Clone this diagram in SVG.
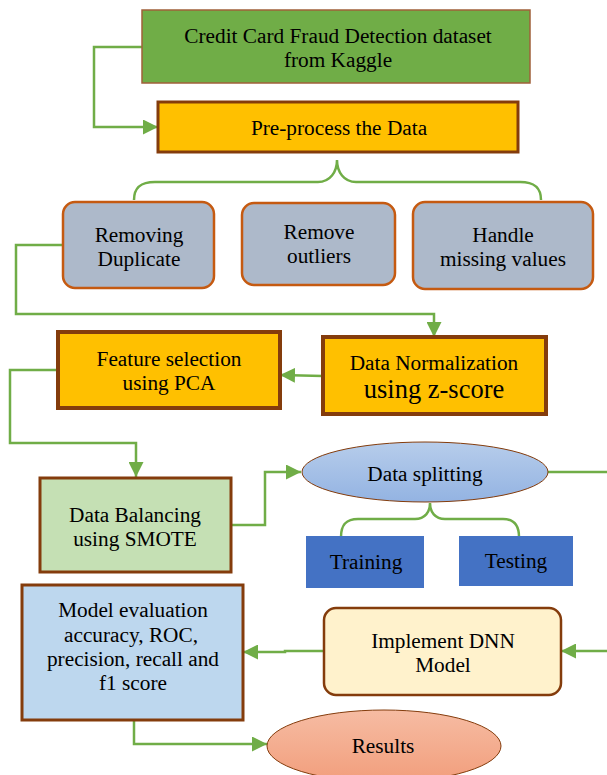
<svg xmlns="http://www.w3.org/2000/svg" width="607" height="775" viewBox="0 0 607 775">
<defs>
<style>
text{font-family:"Liberation Serif","Times New Roman",serif;font-size:21.3px;fill:#000;text-anchor:middle}
.conn{fill:none;stroke:#70AD47;stroke-width:2.5}
.sq{stroke:#843C0C}
.rr{fill:#ADB9CA;stroke:#C55A11;stroke-width:2.5}
</style>
<marker id="ah" viewBox="0 0 10 10" refX="10" refY="5" markerUnits="userSpaceOnUse" markerWidth="15" markerHeight="15" orient="auto">
<path d="M0,0 L10,5 L0,10 z" fill="#70AD47"/>
</marker>
<linearGradient id="gblue" x1="0" y1="0" x2="0" y2="1">
<stop offset="0" stop-color="#B7CDEB"/>
<stop offset="1" stop-color="#93B3E2"/>
</linearGradient>
<linearGradient id="gsalmon" x1="0" y1="0" x2="0" y2="1">
<stop offset="0" stop-color="#F6BCA3"/>
<stop offset="1" stop-color="#F29E7C"/>
</linearGradient>
</defs>

<g id="connectors">
<path class="conn" d="M142,47 H94 V127 H158" marker-end="url(#ah)"/>
<path class="conn" d="M134,200 C134,188 140,182 155,182 H318 C330,182 337,172 337,160 C337,172 344,182 356,182 H520 C535,182 541,188 541,200"/>
<path class="conn" d="M63,245 H16 V314 H434 V337" marker-end="url(#ah)"/>
<path class="conn" d="M323,376 L280,375" marker-end="url(#ah)"/>
<path class="conn" d="M58,370 H10 V443 H136 V477" marker-end="url(#ah)"/>
<path class="conn" d="M231,525 H265 V472 H301" marker-end="url(#ah)"/>
<path class="conn" d="M548,472 H607"/>
<path class="conn" d="M341,537 C341,525 346,519 358,519 H415 C425,519 430,512 430,503 C430,512 435,519 445,519 H503 C514,519 519,525 519,537"/>
<path class="conn" d="M607,651 H561" marker-end="url(#ah)"/>
<path class="conn" d="M324,651 H285 V652 H243" marker-end="url(#ah)"/>
<path class="conn" d="M134,720 V744 H267" marker-end="url(#ah)"/>
</g>

<g id="dataset">
<rect x="142" y="10" width="388" height="73" fill="#70AD47" stroke="#A0603A" stroke-width="1.5"/>
<text x="338" y="43">Credit Card Fraud Detection dataset</text>
<text x="338" y="67">from Kaggle</text>
</g>

<g id="preprocess">
<rect x="158" y="102" width="360" height="50" fill="#FFC000" class="sq" stroke-width="3"/>
<text x="339" y="135">Pre-process the Data</text>
</g>

<g id="removing-duplicate">
<rect x="63" y="202" width="151" height="86" rx="12" class="rr"/>
<text x="139" y="242">Removing</text>
<text x="139" y="266">Duplicate</text>
</g>

<g id="remove-outliers">
<rect x="242" y="203" width="153" height="82" rx="12" class="rr"/>
<text x="319" y="239">Remove</text>
<text x="319" y="263">outliers</text>
</g>

<g id="handle-missing">
<rect x="413" y="202" width="180" height="87" rx="12" class="rr"/>
<text x="503" y="242">Handle</text>
<text x="503" y="266">missing values</text>
</g>

<g id="feature-selection">
<rect x="58" y="332" width="222" height="76" fill="#FFC000" class="sq" stroke-width="4"/>
<text x="169" y="366">Feature selection</text>
<text x="169" y="390">using PCA</text>
</g>

<g id="data-normalization">
<rect x="323" y="337" width="223" height="77" fill="#FFC000" class="sq" stroke-width="4"/>
<text x="434" y="370">Data Normalization</text>
<text x="434" y="398" style="font-size:26.5px">using z-score</text>
</g>

<g id="data-balancing">
<rect x="40" y="478" width="191" height="94" fill="#C5E0B4" class="sq" stroke-width="3"/>
<text x="135" y="522">Data Balancing</text>
<text x="135" y="546">using SMOTE</text>
</g>

<g id="data-splitting">
<ellipse cx="425" cy="472" rx="123" ry="30" fill="url(#gblue)" stroke="#843C0C" stroke-width="1"/>
<text x="425" y="481">Data splitting</text>
</g>

<g id="training">
<rect x="306" y="536" width="118" height="52" fill="#4472C4"/>
<text x="366" y="569">Training</text>
</g>

<g id="testing">
<rect x="459" y="536" width="114" height="50" fill="#4472C4"/>
<text x="516" y="568">Testing</text>
</g>

<g id="model-evaluation">
<rect x="22" y="585" width="221" height="135" fill="#BDD7EE" class="sq" stroke-width="3"/>
<text x="133" y="617">Model evaluation</text>
<text x="131" y="642">accuracy, ROC,</text>
<text x="133" y="666">precision, recall and</text>
<text x="133" y="690">f1 score</text>
</g>

<g id="implement-dnn">
<rect x="324" y="608" width="237" height="87" rx="12" fill="#FFF2CC" class="sq" stroke-width="2.5"/>
<text x="443" y="648">Implement DNN</text>
<text x="443" y="672">Model</text>
</g>

<g id="results">
<ellipse cx="384" cy="746" rx="117" ry="36" fill="url(#gsalmon)" stroke="#843C0C" stroke-width="1"/>
<text x="383" y="753">Results</text>
</g>
</svg>
